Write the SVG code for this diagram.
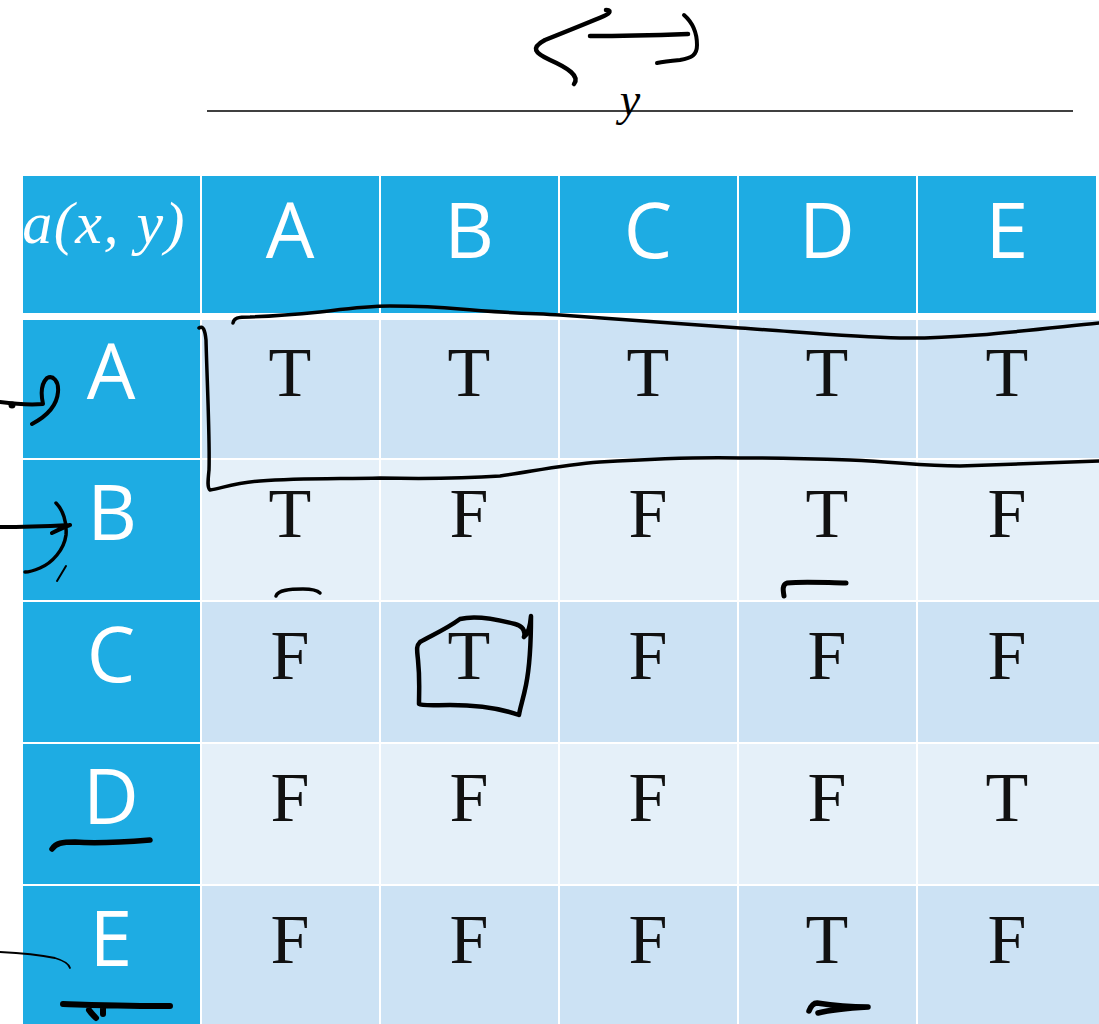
<svg xmlns="http://www.w3.org/2000/svg" width="1099" height="1024" viewBox="0 0 1099 1024">
<style>
.hd{fill:#1EACE3}
.dk{fill:#CCE2F4}
.lt{fill:#E5F0F9}
.hl{font-family:"Open Sans","Liberation Sans",sans-serif;font-size:77px;fill:#FFFFFF;text-anchor:middle}
.cv{font-family:"Liberation Serif","DejaVu Serif",serif;font-size:70px;fill:#111;text-anchor:middle}
.ink{fill:none;stroke:#000;stroke-linecap:round;stroke-linejoin:round}
</style>
<defs>
<clipPath id="hc"><rect x="23" y="176" width="177" height="137"/></clipPath>
</defs>
<rect width="1099" height="1024" fill="#FFFFFF"/>
<g id="axis">
<line x1="207" y1="111" x2="1073" y2="111" stroke="#000" stroke-width="1.6"/>
<text x="630" y="115" font-family="Liberation Serif,serif" font-style="italic" font-size="46" text-anchor="middle">y</text>
</g>
<g id="header">
<rect class="hd" x="23" y="176" width="177" height="137"/>
<rect class="hd" x="202" y="176" width="177" height="137"/>
<rect class="hd" x="381" y="176" width="177" height="137"/>
<rect class="hd" x="560" y="176" width="177" height="137"/>
<rect class="hd" x="739" y="176" width="177" height="137"/>
<rect class="hd" x="918" y="176" width="178" height="137"/>
<text x="186" y="243" clip-path="url(#hc)" font-family="Liberation Serif,serif" font-style="italic" font-size="60" letter-spacing="1.5" fill="#FFFFFF" text-anchor="end">a(x, y)</text>
<text class="hl" x="290" y="258">A</text>
<text class="hl" x="469" y="258">B</text>
<text class="hl" x="648" y="258">C</text>
<text class="hl" x="827" y="258">D</text>
<text class="hl" x="1007" y="258">E</text>
</g>
<g id="rowA">
<rect class="hd" x="23" y="320" width="177" height="138"/>
<rect class="dk" x="202" y="320" width="177" height="138"/>
<rect class="dk" x="381" y="320" width="177" height="138"/>
<rect class="dk" x="560" y="320" width="177" height="138"/>
<rect class="dk" x="739" y="320" width="177" height="138"/>
<rect class="dk" x="918" y="320" width="181" height="138"/>
<text class="hl" x="111" y="399">A</text>
<text class="cv" x="290" y="396">T</text>
<text class="cv" x="469" y="396">T</text>
<text class="cv" x="648" y="396">T</text>
<text class="cv" x="827" y="396">T</text>
<text class="cv" x="1007" y="396">T</text>
</g>
<g id="rowB">
<rect class="hd" x="23" y="460" width="177" height="140"/>
<rect class="lt" x="202" y="460" width="177" height="140"/>
<rect class="lt" x="381" y="460" width="177" height="140"/>
<rect class="lt" x="560" y="460" width="177" height="140"/>
<rect class="lt" x="739" y="460" width="177" height="140"/>
<rect class="lt" x="918" y="460" width="181" height="140"/>
<text class="hl" x="112" y="540">B</text>
<text class="cv" x="290" y="537">T</text>
<text class="cv" x="469" y="537">F</text>
<text class="cv" x="648" y="537">F</text>
<text class="cv" x="827" y="537">T</text>
<text class="cv" x="1007" y="537">F</text>
</g>
<g id="rowC">
<rect class="hd" x="23" y="602" width="177" height="140"/>
<rect class="dk" x="202" y="602" width="177" height="140"/>
<rect class="dk" x="381" y="602" width="177" height="140"/>
<rect class="dk" x="560" y="602" width="177" height="140"/>
<rect class="dk" x="739" y="602" width="177" height="140"/>
<rect class="dk" x="918" y="602" width="181" height="140"/>
<text class="hl" x="111" y="682">C</text>
<text class="cv" x="290" y="679">F</text>
<text class="cv" x="469" y="679">T</text>
<text class="cv" x="648" y="679">F</text>
<text class="cv" x="827" y="679">F</text>
<text class="cv" x="1007" y="679">F</text>
</g>
<g id="rowD">
<rect class="hd" x="23" y="744" width="177" height="140"/>
<rect class="lt" x="202" y="744" width="177" height="140"/>
<rect class="lt" x="381" y="744" width="177" height="140"/>
<rect class="lt" x="560" y="744" width="177" height="140"/>
<rect class="lt" x="739" y="744" width="177" height="140"/>
<rect class="lt" x="918" y="744" width="181" height="140"/>
<text class="hl" x="111" y="824">D</text>
<text class="cv" x="290" y="821">F</text>
<text class="cv" x="469" y="821">F</text>
<text class="cv" x="648" y="821">F</text>
<text class="cv" x="827" y="821">F</text>
<text class="cv" x="1007" y="821">T</text>
</g>
<g id="rowE">
<rect class="hd" x="23" y="886" width="177" height="138"/>
<rect class="dk" x="202" y="886" width="177" height="138"/>
<rect class="dk" x="381" y="886" width="177" height="138"/>
<rect class="dk" x="560" y="886" width="177" height="138"/>
<rect class="dk" x="739" y="886" width="177" height="138"/>
<rect class="dk" x="918" y="886" width="181" height="138"/>
<text class="hl" x="111" y="966">E</text>
<text class="cv" x="290" y="963">F</text>
<text class="cv" x="469" y="963">F</text>
<text class="cv" x="648" y="963">F</text>
<text class="cv" x="827" y="963">T</text>
<text class="cv" x="1007" y="963">F</text>
</g>
<g id="connectors">
<path class="ink" stroke-width="4.5" d="M606,10 C611,10 611,13 604,16 C590,22 565,32 545,40 C530,48 535,53 550,60 C568,68 580,76 574,84"/>
<path class="ink" stroke-width="4.5" d="M590,36 C620,36 660,35 688,34"/>
<path class="ink" stroke-width="4" d="M684,15 C692,22 697,32 697,45 C697,55 692,58 680,60 C670,61 662,62 657,63"/>
<path class="ink" stroke-width="3.5" d="M199,328 C203,325 205,330 206,340 C207,380 210,440 209,470 C208,480 207,488 210,490 C222,488 235,483 260,481 C300,478 340,479 380,478 C430,479 470,478 500,476 C530,472 560,465 600,462 C650,459 700,457 740,458 C790,458 820,459 850,460 C900,462 920,466 960,466 C1010,464 1060,462 1099,461"/>
<path class="ink" stroke-width="3.5" d="M233,323 C234,318 237,317 250,317 C280,316 300,314 320,312 C345,309 365,306 390,306 C420,306 440,307 460,309 C490,312 520,313 560,315 C620,319 680,324 740,328 C800,332 850,337 900,338 C960,339 1030,330 1099,323"/>
<path class="ink" stroke-width="4" d="M0,402 C15,404 30,405 43,404 C41,395 40,385 47,378 C53,375 59,381 58,392 C57,405 47,416 32,424"/>
<circle cx="12" cy="405" r="3.5" fill="#000"/>
<path class="ink" stroke-width="4" d="M0,527 C25,527 50,526 70,525 M52,533 C58,530 64,527 70,525"/>
<path class="ink" stroke-width="3.5" d="M56,503 C63,510 67,522 66,535 C64,550 52,563 40,568 C33,571 28,572 25,572"/>
<path class="ink" stroke-width="2" d="M57,581 C60,576 63,571 66,566"/>
<path class="ink" stroke-width="3.5" d="M276,596 C278,590 290,589 303,589 C312,589 318,591 320,593"/>
<path class="ink" stroke-width="5" d="M784,596 C783,590 782,585 787,583 C805,581 830,583 846,583"/>
<path class="ink" stroke-width="4.5" d="M524,637 C528,634 530,628 531,616 C531,640 530,665 526,685 C523,700 520,708 519,715 C505,710 480,705 450,705 C435,705 422,706 419,704 C419,690 420,680 418,660 C417,650 416,646 420,642 C430,636 445,630 460,619 C475,615 500,620 515,624 C522,626 526,630 524,637"/>
<path class="ink" stroke-width="5.5" d="M52,849 C56,843 62,842 75,842 C100,844 125,842 150,840"/>
<path class="ink" stroke-width="1.8" d="M0,952 C20,953 40,955 55,958 C65,961 69,964 70,968"/>
<path class="ink" stroke-width="6" d="M63,1004 C100,1005 130,1006 170,1006 M89,1010 C91,1013 93,1015 96,1018 M103,1008 L103,1014"/>
<path class="ink" stroke-width="5.5" d="M809,1011 C811,1006 813,1003 817,1003 C830,1005 850,1007 868,1007 M818,1013 C830,1010 850,1008 868,1007"/>
</g>
</svg>
